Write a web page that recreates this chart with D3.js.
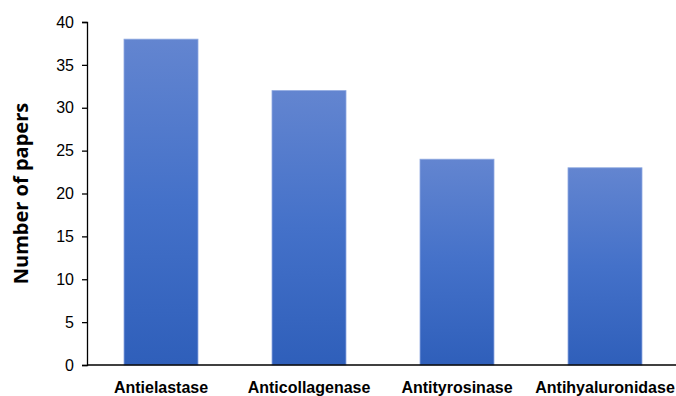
<!DOCTYPE html>
<html>
<head>
<meta charset="utf-8">
<script src="https://cdn.jsdelivr.net/npm/d3@7"></script>
<style>
  body { margin: 0; background: #fff; }
  svg { display: block; font-family: "Open Sans", "Liberation Sans", sans-serif; }
</style>
</head>
<body>
<div id="chart"></div>
<script>
// data
const categories = ["Antielastase", "Anticollagenase", "Antityrosinase", "Antihyaluronidase"];
const papers = [38, 32, 24, 23];
const yTicks = [0, 5, 10, 15, 20, 25, 30, 35, 40];

const width = 676, height = 396;
const margin = {top: 22, right: -3, bottom: 31, left: 87};

const svg = d3.select("#chart").append("svg")
    .attr("width", width)
    .attr("height", height);

// gradient like the excel fill
const defs = svg.append("defs");
const grad = defs.append("linearGradient")
    .attr("id", "barGrad")
    .attr("x1", 0).attr("y1", 0).attr("x2", 0).attr("y2", 1);
grad.append("stop").attr("offset", "0%").attr("stop-color", "#6385d0");
grad.append("stop").attr("offset", "50%").attr("stop-color", "#4471c9");
grad.append("stop").attr("offset", "100%").attr("stop-color", "#2f5fba");

const x = d3.scaleBand()
    .domain(categories)
    .range([margin.left, width - margin.right])
    .paddingInner(0.5)
    .paddingOuter(0.25);

const y = d3.scaleLinear()
    .domain([0, 40])
    .range([height - margin.bottom, margin.top]);

// bars
svg.selectAll("rect.bar")
    .data(categories)
    .enter()
    .append("rect")
    .attr("class", "bar")
    .attr("x", d => x(d))
    .attr("y", (d, i) => y(papers[i]))
    .attr("width", x.bandwidth())
    .attr("height", (d, i) => y(0) - y(papers[i]))
    .attr("fill", "url(#barGrad)")
    .attr("stroke", "#8fa9e0")
    .attr("stroke-width", 0.8);

// y axis
const yAxis = svg.append("g")
    .attr("transform", `translate(${margin.left},0)`)
    .call(d3.axisLeft(y).tickValues(yTicks).tickSize(5).tickPadding(8));
yAxis.select(".domain").attr("stroke", "#000").attr("stroke-width", 1.3);
yAxis.selectAll(".tick line").attr("stroke", "#000").attr("stroke-width", 1.3);
yAxis.selectAll("text")
    .attr("font-size", "16px")
    .attr("fill", "#000");

// x axis
const xAxis = svg.append("g")
    .attr("transform", `translate(0,${y(0)})`)
    .call(d3.axisBottom(x).tickSize(0).tickPadding(17));
xAxis.select(".domain")
    .attr("d", `M${margin.left},0H${width}`)
    .attr("stroke", "#000")
    .attr("stroke-width", 1.3);
xAxis.selectAll("text")
    .attr("font-size", "16px")
    .attr("font-weight", "bold")
    .attr("fill", "#000");

// axis title
svg.append("text")
    .attr("transform", `translate(28,${(y(0) + y(40)) / 2}) rotate(-90)`)
    .attr("text-anchor", "middle")
    .attr("font-size", "20px")
    .attr("font-weight", "bold")
    .attr("fill", "#000")
    .text("Number of papers");
</script>
</body>
</html>
